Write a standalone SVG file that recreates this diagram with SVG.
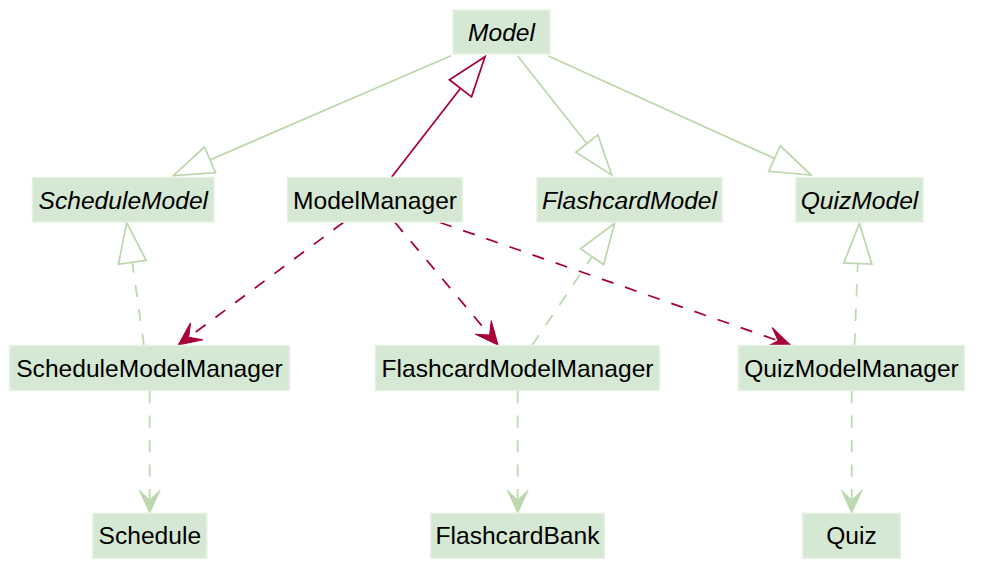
<svg xmlns="http://www.w3.org/2000/svg" width="984" height="578" viewBox="0 0 984 578">
<style>
.box{fill:#D5E8D4;stroke:#E6F1E4;stroke-width:1.5}
.lbl{font-family:"Liberation Sans",Arial,Helvetica,sans-serif;font-size:24.6px;fill:#000;text-anchor:middle}
.it{font-style:italic}
.g{stroke:#BDD7AE;stroke-width:1.75;fill:none}
.r{stroke:#A80036;stroke-width:1.75;fill:none}
.d{stroke-dasharray:12.25 12.25}
</style>
<defs>
<marker id="triG" markerUnits="userSpaceOnUse" viewBox="-44 -18 48 36" markerWidth="48" markerHeight="36" refX="0" refY="0" orient="auto">
<path d="M0,0 L-40,-14 L-40,14 Z" fill="#fff" stroke="#BDD7AE" stroke-width="1.75"/>
</marker>
<marker id="triR" markerUnits="userSpaceOnUse" viewBox="-44 -18 48 36" markerWidth="48" markerHeight="36" refX="0" refY="0" orient="auto">
<path d="M0,0 L-40,-14 L-40,14 Z" fill="#fff" stroke="#A80036" stroke-width="1.75"/>
</marker>
<marker id="arrG" markerUnits="userSpaceOnUse" viewBox="-26 -13 28 26" markerWidth="28" markerHeight="26" refX="0" refY="0" orient="auto">
<path d="M0,0 L-23,-10.5 L-13,0 L-23,10.5 Z" fill="#BDD7AE" stroke="#BDD7AE" stroke-width="1"/>
</marker>
<marker id="arrR" markerUnits="userSpaceOnUse" viewBox="-26 -13 28 26" markerWidth="28" markerHeight="26" refX="0" refY="0" orient="auto">
<path d="M0,0 L-23,-10.5 L-13,0 L-23,10.5 Z" fill="#A80036" stroke="#A80036" stroke-width="1"/>
</marker>
</defs>
<g id="connectors">
<path class="g" d="M451,55.7 L173.3,175.7" marker-end="url(#triG)"/>
<path class="g" d="M517.7,56 L611.7,175" marker-end="url(#triG)"/>
<path class="g" d="M548.3,56 L811,175" marker-end="url(#triG)"/>
<path class="r" d="M391.7,177 L485,56.7" marker-end="url(#triR)"/>
<path class="g d" d="M144,345.5 L126.7,222.7" marker-end="url(#triG)"/>
<path class="g d" d="M532,345.5 L614.5,223.5" marker-end="url(#triG)"/>
<path class="g d" d="M854.5,345.5 L859.4,223.5" marker-end="url(#triG)"/>
<path class="r d" d="M343.3,222.5 L178.3,345" marker-end="url(#arrR)"/>
<path class="r d" d="M395,222.5 L498,345" marker-end="url(#arrR)"/>
<path class="r d" d="M440,222.5 L790.5,345" marker-end="url(#arrR)"/>
<path class="g d" d="M149.7,391 L149.7,513" marker-end="url(#arrG)"/>
<path class="g d" d="M517.7,391 L517.7,513" marker-end="url(#arrG)"/>
<path class="g d" d="M851.7,391 L851.7,513" marker-end="url(#arrG)"/>
</g>
<g id="Model"><rect class="box" x="453" y="10" width="97" height="44"/><text class="lbl it" x="501.5" y="40.8">Model</text></g>
<g id="ScheduleModel"><rect class="box" x="32.5" y="177.5" width="181.5" height="44.5"/><text class="lbl it" x="123.3" y="208.5">ScheduleModel</text></g>
<g id="ModelManager"><rect class="box" x="287.5" y="177.5" width="175" height="44.5"/><text class="lbl" x="375" y="208.5">ModelManager</text></g>
<g id="FlashcardModel"><rect class="box" x="537" y="177.5" width="185" height="44.5"/><text class="lbl it" x="629.5" y="208.5">FlashcardModel</text></g>
<g id="QuizModel"><rect class="box" x="796" y="177.5" width="127" height="44.5"/><text class="lbl it" x="859.5" y="208.5">QuizModel</text></g>
<g id="ScheduleModelManager"><rect class="box" x="9.5" y="345.5" width="280" height="45"/><text class="lbl" x="149.5" y="376.7">ScheduleModelManager</text></g>
<g id="FlashcardModelManager"><rect class="box" x="375.5" y="345.5" width="284" height="45"/><text class="lbl" x="517.5" y="376.7">FlashcardModelManager</text></g>
<g id="QuizModelManager"><rect class="box" x="738.5" y="345.5" width="226" height="45"/><text class="lbl" x="851.5" y="376.7">QuizModelManager</text></g>
<g id="Schedule"><rect class="box" x="92.8" y="513.3" width="114" height="45"/><text class="lbl" x="149.8" y="543.8">Schedule</text></g>
<g id="FlashcardBank"><rect class="box" x="430.7" y="513.3" width="173.6" height="45"/><text class="lbl" x="517.5" y="543.8">FlashcardBank</text></g>
<g id="Quiz"><rect class="box" x="802.7" y="513.3" width="97.6" height="45"/><text class="lbl" x="851.5" y="543.8">Quiz</text></g>
</svg>
